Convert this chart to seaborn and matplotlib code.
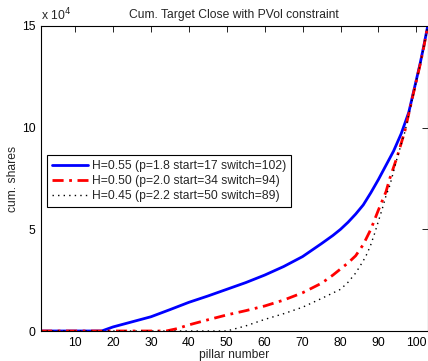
import matplotlib
matplotlib.use("Agg")
import matplotlib.pyplot as plt
import seaborn as sns
import pandas as pd
from matplotlib.ticker import FuncFormatter

# ---- data (cumulative shares) ----
labels = ["H=0.55 (p=1.8 start=17 switch=102)",
          "H=0.50 (p=2.0 start=34 switch=94)",
          "H=0.45 (p=2.2 start=50 switch=89)"]

pillar_a = [1, 17, 20, 25, 30, 35, 40, 45, 50, 55, 60, 65, 70, 75, 78, 80, 82,
            84, 86, 88, 90, 92, 94, 96, 98, 100, 101, 102, 103]
shares_a = [0, 0, 2000, 4500, 7000, 10500, 14100, 17200, 20500, 23800, 27500,
            31700, 36600, 43000, 47000, 50000, 53500, 57500, 62000, 68000,
            74500, 81500, 88500, 97000, 107500, 123500, 131500, 140500, 150000]

pillar_b = [1, 34, 37, 40, 45, 50, 55, 60, 65, 70, 75, 78, 80, 82, 84, 86, 88,
            90, 92, 93, 94, 95, 97, 99, 100, 101, 102, 103]
shares_b = [0, 0, 1200, 3000, 5500, 7900, 10000, 12300, 15200, 18800, 23500,
            27500, 30500, 33500, 37000, 42500, 50000, 59500, 68500, 75000,
            80500, 86000, 98500, 115000, 123000, 131000, 140000, 150000]

pillar_c = [1, 50, 55, 60, 65, 70, 75, 80, 82, 84, 86, 87, 88, 89, 90, 91, 92,
            93, 94, 95, 97, 99, 101, 102, 103]
shares_c = [0, 0, 2500, 5700, 8500, 11700, 16000, 20500, 24000, 28500, 34500,
            38000, 42500, 48000, 54000, 60000, 66500, 71500, 78500, 85500,
            98000, 114500, 131000, 140000, 150000]

colors = ["#0000ff", "#ff0000", "#000000"]
styles = ["-", (0, (4, 2, 1, 2)), (0, (1, 3))]
widths = [2.0, 2.0, 1.0]

sns.set_style("white")
plt.rcParams["font.family"] = ["Liberation Sans", "DejaVu Sans"]
plt.rcParams["font.size"] = 8.7

fig = plt.figure(figsize=(4.28, 3.61), dpi=100)
ax = fig.add_axes([41 / 428, 1 - 331 / 361, 386.7 / 428, 305 / 361])

series = [(pillar_a, shares_a), (pillar_b, shares_b), (pillar_c, shares_c)]
for (px, sh), lab, c, ls, lw in zip(series, labels, colors, styles, widths):
    df = pd.DataFrame({"pillar": px, "shares": sh})
    sns.lineplot(data=df, x="pillar", y="shares", ax=ax, color=c, label=lab,
                 linewidth=lw, sort=True, estimator=None)
    ax.lines[-1].set_linestyle(ls)

ax.set_xlim(1, 103)
ax.set_ylim(0, 150000)
ax.set_xticks([10, 20, 30, 40, 50, 60, 70, 80, 90, 100])
ax.set_yticks([0, 50000, 100000, 150000])
ax.yaxis.set_major_formatter(FuncFormatter(lambda v, p: f"{v / 1e4:g}"))
ax.tick_params(direction="in", length=4, width=0.6, top=True, right=True,
               labelsize=8.7, colors="black", pad=4)
for s in ax.spines.values():
    s.set_visible(True)
    s.set_color("black")
    s.set_linewidth(0.8)

ax.set_title("Cum. Target Close with PVol constraint", fontsize=8.7, pad=6)
ax.set_xlabel("pillar number", fontsize=8.7, labelpad=0)
ax.set_ylabel("cum. shares", fontsize=8.7, labelpad=2)
ax.text(0.0, 1.008, r"x 10$^4$", transform=ax.transAxes, ha="left",
        va="bottom", fontsize=8.7)

leg = ax.legend(loc="upper left", bbox_to_anchor=(0.0155, 0.577),
                borderaxespad=0, fontsize=8.7, frameon=True, fancybox=False,
                framealpha=1, edgecolor="black", handlelength=3.0,
                handletextpad=0.3, labelspacing=0.25, borderpad=0.4)
leg.get_frame().set_linewidth(0.8)
for h, ls in zip(leg.get_lines(), styles):
    h.set_linestyle(ls)

fig.savefig("out.png", dpi=100)
